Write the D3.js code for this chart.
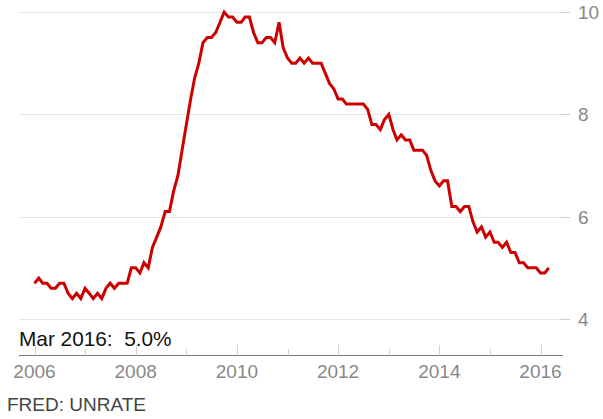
<!DOCTYPE html>
<html>
<head>
<meta charset="utf-8">
<script src="https://cdn.jsdelivr.net/npm/d3@7"></script>
<style>
  html, body { margin: 0; padding: 0; background: #fff; }
  svg { display: block; font-family: "Liberation Sans", Arial, sans-serif; }
</style>
</head>
<body>
<svg id="chart" width="603" height="419"></svg>
<script>
// Monthly US unemployment rate (UNRATE), Jan 2006 – Mar 2016
const startMonth = "2006-01-01";
const unrate = [
  4.7, 4.8, 4.7, 4.7, 4.6, 4.6, 4.7, 4.7, 4.5, 4.4, 4.5, 4.4,
  4.6, 4.5, 4.4, 4.5, 4.4, 4.6, 4.7, 4.6, 4.7, 4.7, 4.7, 5.0,
  5.0, 4.9, 5.1, 5.0, 5.4, 5.6, 5.8, 6.1, 6.1, 6.5, 6.8, 7.3,
  7.8, 8.3, 8.7, 9.0, 9.4, 9.5, 9.5, 9.6, 9.8, 10.0, 9.9, 9.9,
  9.8, 9.8, 9.9, 9.9, 9.6, 9.4, 9.4, 9.5, 9.5, 9.4, 9.8, 9.3,
  9.1, 9.0, 9.0, 9.1, 9.0, 9.1, 9.0, 9.0, 9.0, 8.8, 8.6, 8.5,
  8.3, 8.3, 8.2, 8.2, 8.2, 8.2, 8.2, 8.1, 7.8, 7.8, 7.7, 7.9,
  8.0, 7.7, 7.5, 7.6, 7.5, 7.5, 7.3, 7.3, 7.3, 7.2, 6.9, 6.7,
  6.6, 6.7, 6.7, 6.2, 6.2, 6.1, 6.2, 6.2, 5.9, 5.7, 5.8, 5.6,
  5.7, 5.5, 5.5, 5.4, 5.5, 5.3, 5.3, 5.1, 5.1, 5.0, 5.0, 5.0,
  4.9, 4.9, 5.0
];
const yTicks = [4, 6, 8, 10];
const xTickYears = [2006, 2007, 2008, 2009, 2010, 2011, 2012, 2013, 2014, 2015, 2016];
const xLabelYears = [2006, 2008, 2010, 2012, 2014, 2016];
const latestLabel = "Mar 2016:  5.0%";
const sourceLabel = "FRED: UNRATE";

const parse = d3.timeParse("%Y-%m-%d");
const start = parse(startMonth);
const data = unrate.map((v, i) => ({ date: d3.timeMonth.offset(start, i), value: v }));

const svg = d3.select("#chart");

const x = d3.scaleTime()
  .domain([new Date(2006, 0, 1), new Date(2016, 0, 1)])
  .range([34.5, 540.5]);
const y = d3.scaleLinear()
  .domain([4, 10])
  .range([319, 12]);

const plotLeft = 19, plotRight = 560, axisRight = 563;

// gridlines
const grid = svg.append("g");
grid.selectAll("line.grid").data(yTicks).join("line")
  .attr("class", "grid")
  .attr("x1", plotLeft).attr("x2", plotRight)
  .attr("y1", d => Math.round(y(d)) + 0.5).attr("y2", d => Math.round(y(d)) + 0.5)
  .attr("stroke", "#e6e6e6").attr("stroke-width", 1);
grid.selectAll("line.tick").data(yTicks).join("line")
  .attr("class", "tick")
  .attr("x1", plotRight).attr("x2", 570)
  .attr("y1", d => Math.round(y(d)) + 0.5).attr("y2", d => Math.round(y(d)) + 0.5)
  .attr("stroke", "#cfcfcf").attr("stroke-width", 1);
grid.selectAll("text").data(yTicks).join("text")
  .attr("x", 578)
  .attr("y", d => y(d))
  .attr("dy", "0.36em")
  .attr("fill", "#888")
  .attr("font-size", 19)
  .text(d => d);

// x axis
const axisY = 355.5;
const xa = svg.append("g");
xa.append("line")
  .attr("x1", plotLeft).attr("x2", axisRight)
  .attr("y1", axisY).attr("y2", axisY)
  .attr("stroke", "#777").attr("stroke-width", 1.2);
xa.selectAll("line.xt").data(xTickYears).join("line")
  .attr("class", "xt")
  .attr("x1", d => Math.round(x(new Date(d, 0, 1))) + 0.5)
  .attr("x2", d => Math.round(x(new Date(d, 0, 1))) + 0.5)
  .attr("y1", d => xLabelYears.includes(d) ? 345 : 349)
  .attr("y2", axisY)
  .attr("stroke", "#d0d0d0").attr("stroke-width", 1);
xa.selectAll("text").data(xLabelYears).join("text")
  .attr("x", d => x(new Date(d, 0, 1)))
  .attr("y", 378)
  .attr("text-anchor", "middle")
  .attr("fill", "#888")
  .attr("font-size", 19)
  .text(d => d);

// line
const line = d3.line().x(d => x(d.date)).y(d => y(d.value));
svg.append("path")
  .datum(data)
  .attr("d", line)
  .attr("fill", "none")
  .attr("stroke", "#cc0000")
  .attr("stroke-width", 3)
  .attr("stroke-linejoin", "miter");

// labels
svg.append("text")
  .attr("x", 19).attr("y", 346)
  .attr("fill", "#111")
  .attr("font-size", 20.8)
  .style("white-space", "pre")
  .text(latestLabel);
svg.append("text")
  .attr("x", 7).attr("y", 411)
  .attr("fill", "#444")
  .attr("font-size", 19)
  .text(sourceLabel);
</script>
</body>
</html>
